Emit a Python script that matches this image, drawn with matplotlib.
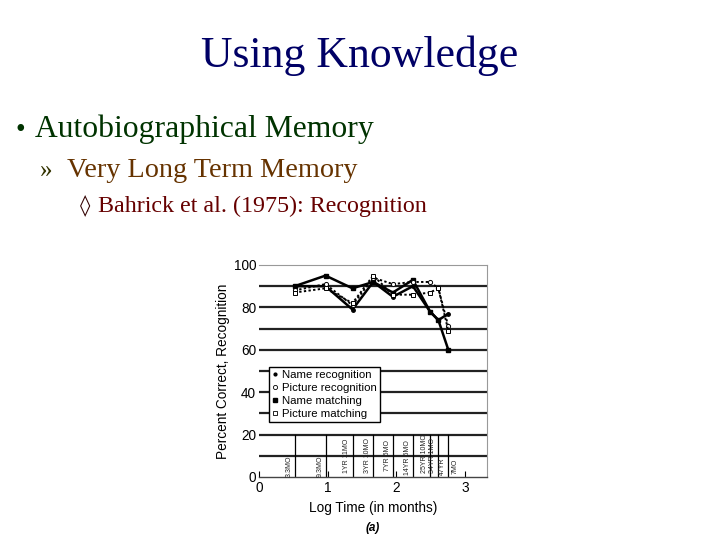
import numpy as np
import matplotlib
matplotlib.use("Agg")
import matplotlib.pyplot as plt
from matplotlib.lines import Line2D

# retention intervals (months) and their labels
months = [3.3, 9.3, 23, 46, 89, 174, 310, 409, 571]
interval_labels = ["3.3MO", "9.3MO", "1YR 11MO", "3YR 10MO", "7YR 5MO",
                   "14YR 6MO", "25YR 10MO", "34YR 1MO", "47YR"]
label_heights = [5, 5, 10, 10, 10, 9, 11, 10, 5]

# percent correct
name_recognition = [90, 90, 79, 92, 85, 90, 78, 74, 77]
picture_recognition = [88, 91, 81, 94, 91, 92, 92, 89, 71]
name_matching = [90, 95, 89, 92, 87, 93, 78, 74, 60]
picture_matching = [87, 89, 82, 95, 86, 86, 87, 89, 69]

x = np.log10(months)

fig = plt.figure(figsize=(7.2, 5.4), dpi=100)
fig.patch.set_facecolor("white")

serif = "Liberation Serif"
fig.text(0.499, 1 - 67 / 540, "Using Knowledge", ha="center", va="baseline",
         fontsize=31.5, color="#000066", family=serif)
fig.text(0.021, 1 - 137 / 540, "\u2022", va="baseline", fontsize=20, color="#003300", family=serif)
fig.text(0.049, 1 - 137 / 540, "Autobiographical Memory", va="baseline",
         fontsize=22.8, color="#003300", family=serif)
fig.text(0.056, 1 - 177 / 540, "\u00bb", va="baseline", fontsize=18, color="#333300", family=serif)
fig.text(0.093, 1 - 177 / 540, "Very Long Term Memory", va="baseline",
         fontsize=20.3, color="#663300", family=serif)
fig.text(0.111, 1 - 212 / 540, "\u25ca", va="baseline", fontsize=15, color="#330000",
         family=["DejaVu Serif"])
fig.text(0.136, 1 - 212 / 540, "Bahrick et al. (1975): Recognition", va="baseline",
         fontsize=17.3, color="#660000", family=serif)

sans = "Liberation Sans"
ax = fig.add_axes([259 / 720, 1 - 477 / 540, 228 / 720, 212 / 540])
ax.set_xlim(0, 3.32)
ax.set_ylim(0, 100)

for yv in range(10, 100, 10):
    ax.axhline(yv, color="#222222", lw=1.6, zorder=1)

for xi, lab, h in zip(x, interval_labels, label_heights):
    ax.plot([xi, xi], [0, 20], color="black", lw=0.9, zorder=1)
    ax.text(xi - 0.03, h, lab, rotation=90, ha="right", va="center",
            fontsize=5, family=sans, color="#222222")
ax.text(x[-1] + 0.05, 5, "7MO", rotation=90, ha="left", va="center",
        fontsize=5, family=sans, color="#222222")

ax.plot(x, name_recognition, color="black", lw=1.8, marker="o", ms=2.5,
        mfc="black", zorder=3)
ax.plot(x, name_matching, color="black", lw=1.8, marker="s", ms=3,
        mfc="black", zorder=3)
ax.plot(x, picture_recognition, color="black", lw=1.4, ls=(0, (1.2, 1.2)),
        marker="o", ms=3, mfc="white", mew=0.7, zorder=3)
ax.plot(x, picture_matching, color="black", lw=1.4, ls=(0, (1.2, 1.2)),
        marker="s", ms=3.5, mfc="white", mew=0.7, zorder=3)

handles = [
    Line2D([], [], ls="none", marker="o", ms=2, mfc="black", mec="black"),
    Line2D([], [], ls="none", marker="o", ms=3, mfc="white", mec="black", mew=0.6),
    Line2D([], [], ls="none", marker="s", ms=3, mfc="black", mec="black"),
    Line2D([], [], ls="none", marker="s", ms=3, mfc="white", mec="black", mew=0.6),
]
leg = ax.legend(handles, ["Name recognition", "Picture recognition",
                          "Name matching", "Picture matching"],
                loc="upper left", bbox_to_anchor=(0.042, 0.519),
                prop={"family": sans, "size": 8.2}, fancybox=False,
                edgecolor="black", framealpha=1, handlelength=0.6,
                handletextpad=0.3, borderpad=0.3, labelspacing=0.25,
                borderaxespad=0)
leg.get_frame().set_linewidth(1.0)
leg.set_zorder(5)

for side in ["top", "right"]:
    ax.spines[side].set_color("#999999")
    ax.spines[side].set_linewidth(0.8)
ax.spines["left"].set_visible(False)
ax.spines["bottom"].set_color("#444444")
ax.spines["bottom"].set_linewidth(1.0)

ax.set_xticks([0, 1, 2, 3])
ax.set_yticks([0, 20, 40, 60, 80, 100])
ax.tick_params(axis="x", direction="in", length=4, width=0.8, labelsize=9.8, pad=3)
ax.tick_params(axis="y", length=0, labelsize=9.8, pad=2)
for t in ax.get_xticklabels() + ax.get_yticklabels():
    t.set_family(sans)

ax.set_xlabel("Log Time (in months)", family=sans, fontsize=9.8, labelpad=4)
ax.set_ylabel("Percent Correct, Recognition", family=sans, fontsize=9.8, labelpad=3)
fig.text(373 / 720, 1 - 528 / 540, "(a)", ha="center", va="center",
         fontsize=8.5, style="italic", weight="bold", family=sans)

fig.savefig("out.png", dpi=100, facecolor="white")
